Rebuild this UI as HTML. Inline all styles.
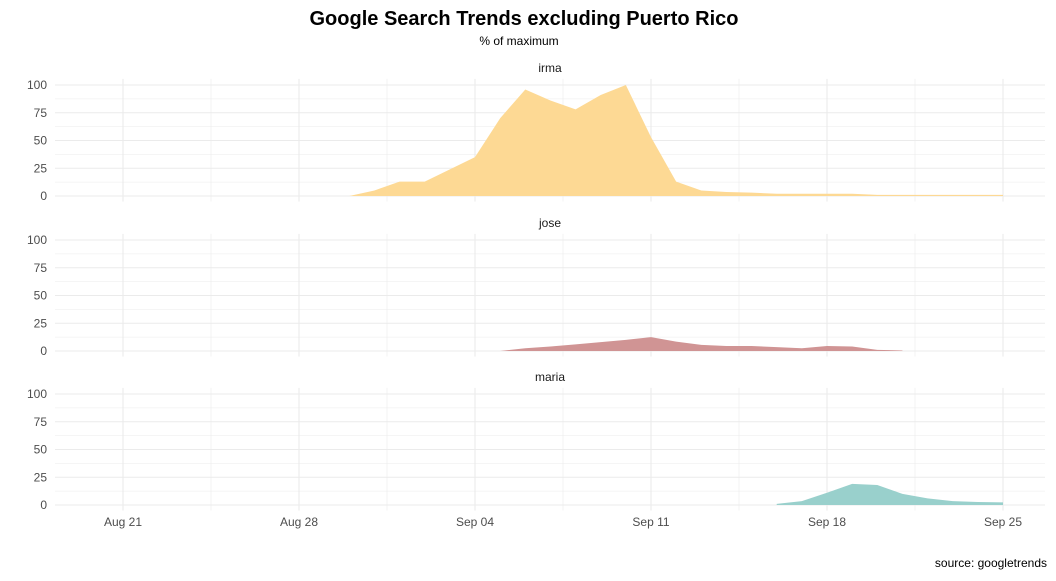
<!DOCTYPE html>
<html><head><meta charset="utf-8"><style>
body{margin:0;background:#fff;}
svg text{font-family:"Liberation Sans",Arial,sans-serif;}
</style></head><body>
<svg id="chart" width="1056" height="576" xmlns="http://www.w3.org/2000/svg">
<text x="524" y="25" text-anchor="middle" font-size="20" font-weight="bold" fill="#000">Google Search Trends excluding Puerto Rico</text>
<text x="519" y="45" text-anchor="middle" font-size="12" fill="#000">% of maximum</text>
<text x="1047" y="567" text-anchor="end" font-size="12" fill="#000">source: googletrends</text>
<g id="plots"></g>
</svg>
<script>
const termNames = ["irma", "jose", "maria"];
const dayLabels = ["Aug 21", "Aug 28", "Sep 04", "Sep 11", "Sep 18", "Sep 25"];
const labelDays = [0, 7, 14, 21, 28, 35];
const yTicks = [0, 25, 50, 75, 100];
const irmaDays = [9,10,11,12,13,14,15,16,17,18,19,20,21,22,23,24,25,26,27,28,29,30,31,32,33,34,35];
const irmaValues = [0,5,13,13,24,35,70,96,86,78,91,100,53,13,5,3.6,3,2,2,2,2,1,1,1,1,1,1];
const joseDays = [15,16,17,18,19,20,21,22,23,24,25,26,27,28,29,30,31];
const joseValues = [0,2.5,4,6,8,10,12.5,8.5,5.5,4.5,4.5,3.5,2.5,4.5,4,1,0.5];
const mariaDays = [26,27,28,29,30,31,32,33,34,35];
const mariaValues = [1,3.5,11,19,18,10,6,3.5,2.7,2.4];
const colors = ["#fdd994", "#d09494", "#99d0cc"];

const NS = "http://www.w3.org/2000/svg";
const g = document.getElementById("plots");
const xL = 55, xR = 1045;
function xs(d){ return 123 + d * (176/7); }
const zeros = [196, 351, 505];
function mk(tag, attrs){ const e = document.createElementNS(NS, tag); for (const k in attrs) e.setAttribute(k, attrs[k]); return e; }
const series = [[irmaDays, irmaValues],[joseDays, joseValues],[mariaDays, mariaValues]];
zeros.forEach((z0, p) => {
  const ys = v => z0 - v * 1.11;
  const top = ys(105.5), bot = ys(-5);
  const panel = mk("g", {});
  
  
  g.appendChild(panel);
  for (let v = 0; v <= 100; v += 12.5) {
    const l = mk("line", {x1:xL, x2:xR, y1:ys(v), y2:ys(v), stroke:"#ebebeb", "stroke-width": v % 25 === 0 ? 1.1 : 0.6});
    
    
    panel.appendChild(l);
  }
  for (let d = -3.5; d <= 38; d += 3.5) {
    const x = xs(d); if (x < xL || x > xR) continue;
    const l = mk("line", {x1:x, x2:x, y1:top, y2:bot, stroke:"#ebebeb", "stroke-width": (d % 7 === 0) ? 1.1 : 0.6});
    
    
    panel.appendChild(l);
  }
  yTicks.forEach(v => {
    const t = mk("text", {x:47, y:ys(v)+4, "text-anchor":"end", "font-size":12, fill:"#4d4d4d"});
    t.textContent = v;
    
    
    panel.appendChild(t);
  });
  const st = mk("text", {x:550, y:top-7, "text-anchor":"middle", "font-size":12, fill:"#1a1a1a"});
  st.textContent = termNames[p];
  
  
  panel.appendChild(st);
  const [ds, vs] = series[p];
  let d = "M" + xs(ds[0]) + "," + ys(0);
  ds.forEach((dd, i) => { d += " L" + xs(dd) + "," + ys(vs[i]); });
  d += " L" + xs(ds[ds.length-1]) + "," + ys(0) + " Z";
  const a = mk("path", {d:d, fill:colors[p]});
  
  
  panel.appendChild(a);
});
labelDays.forEach((dd, i) => {
  const t = mk("text", {x:xs(dd), y:526, "text-anchor":"middle", "font-size":12, fill:"#4d4d4d"});
  t.textContent = dayLabels[i];
  
  
  g.appendChild(t);
});
</script>
</body></html>
